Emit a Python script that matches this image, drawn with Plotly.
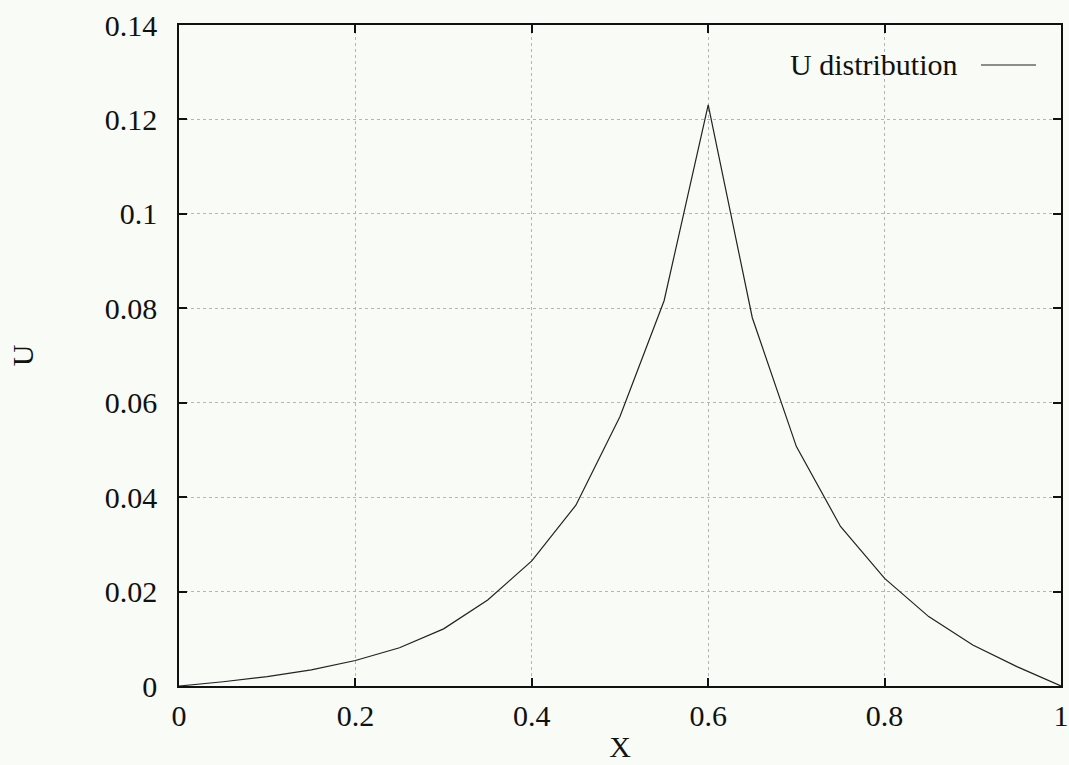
import plotly.graph_objects as go

# Sampled U(X) profile
x_vals = [0.0, 0.05, 0.1, 0.15, 0.2, 0.25, 0.3, 0.35, 0.4, 0.45, 0.5,
          0.55, 0.6, 0.65, 0.7, 0.75, 0.8, 0.85, 0.9, 0.95, 1.0]
u_vals = [0.0, 0.0009, 0.0020, 0.0034, 0.0054, 0.0081, 0.0121, 0.0182,
          0.0265, 0.0383, 0.0571, 0.0816, 0.1231, 0.0780, 0.0507, 0.0338,
          0.0228, 0.0147, 0.0087, 0.0041, 0.0]

x_ticks = [0, 0.2, 0.4, 0.6, 0.8, 1]
x_tick_text = ["0", "0.2", "0.4", "0.6", "0.8", "1"]
y_ticks = [0, 0.02, 0.04, 0.06, 0.08, 0.1, 0.12, 0.14]
y_tick_text = ["0", "0.02", "0.04", "0.06", "0.08", "0.1", "0.12", "0.14"]

series_name = "U distribution"
font_family = "Liberation Serif"
bg = "#f8fbf6"
ink = "#111111"

fig = go.Figure()
fig.add_trace(go.Scatter(
    x=x_vals, y=u_vals, mode="lines", name=series_name,
    line=dict(color="#222222", width=1.2), showlegend=False,
))

axis_common = dict(
    showline=True, linecolor=ink, linewidth=1.5, mirror="ticks",
    ticks="inside", ticklen=8, tickwidth=1.5, tickcolor=ink,
    showgrid=True, gridcolor="#b5b5b5", griddash="dot", gridwidth=1,
    zeroline=False, ticklabeloverflow="allow", automargin=False,
    tickfont=dict(family=font_family, size=30, color=ink),
)

fig.update_xaxes(
    range=[0, 1], tickvals=x_ticks, ticktext=x_tick_text,
    ticklabelstandoff=2,
    title=dict(text="X", font=dict(family=font_family, size=30, color=ink),
               standoff=5),
    **axis_common,
)
fig.update_yaxes(
    range=[0, 0.14], tickvals=y_ticks, ticktext=y_tick_text,
    ticklabelstandoff=14,
    title=dict(text="U", font=dict(family=font_family, size=30, color=ink),
               standoff=62),
    **axis_common,
)

# Key: label text followed by a short line sample
fig.add_annotation(
    xref="paper", yref="paper", x=0.8855, y=0.9395, xanchor="right", yanchor="middle",
    text=series_name, showarrow=False,
    font=dict(family=font_family, size=30, color=ink),
)
fig.add_shape(
    type="line", xref="paper", yref="paper",
    x0=0.9093, x1=0.9717, y0=0.9395, y1=0.9395,
    line=dict(color="#222222", width=1.2),
)

fig.update_layout(
    width=1069, height=765,
    margin=dict(l=179, r=8, t=25, b=79),
    paper_bgcolor=bg, plot_bgcolor=bg,
    font=dict(family=font_family, color=ink),
)

fig.write_html("out.html")
